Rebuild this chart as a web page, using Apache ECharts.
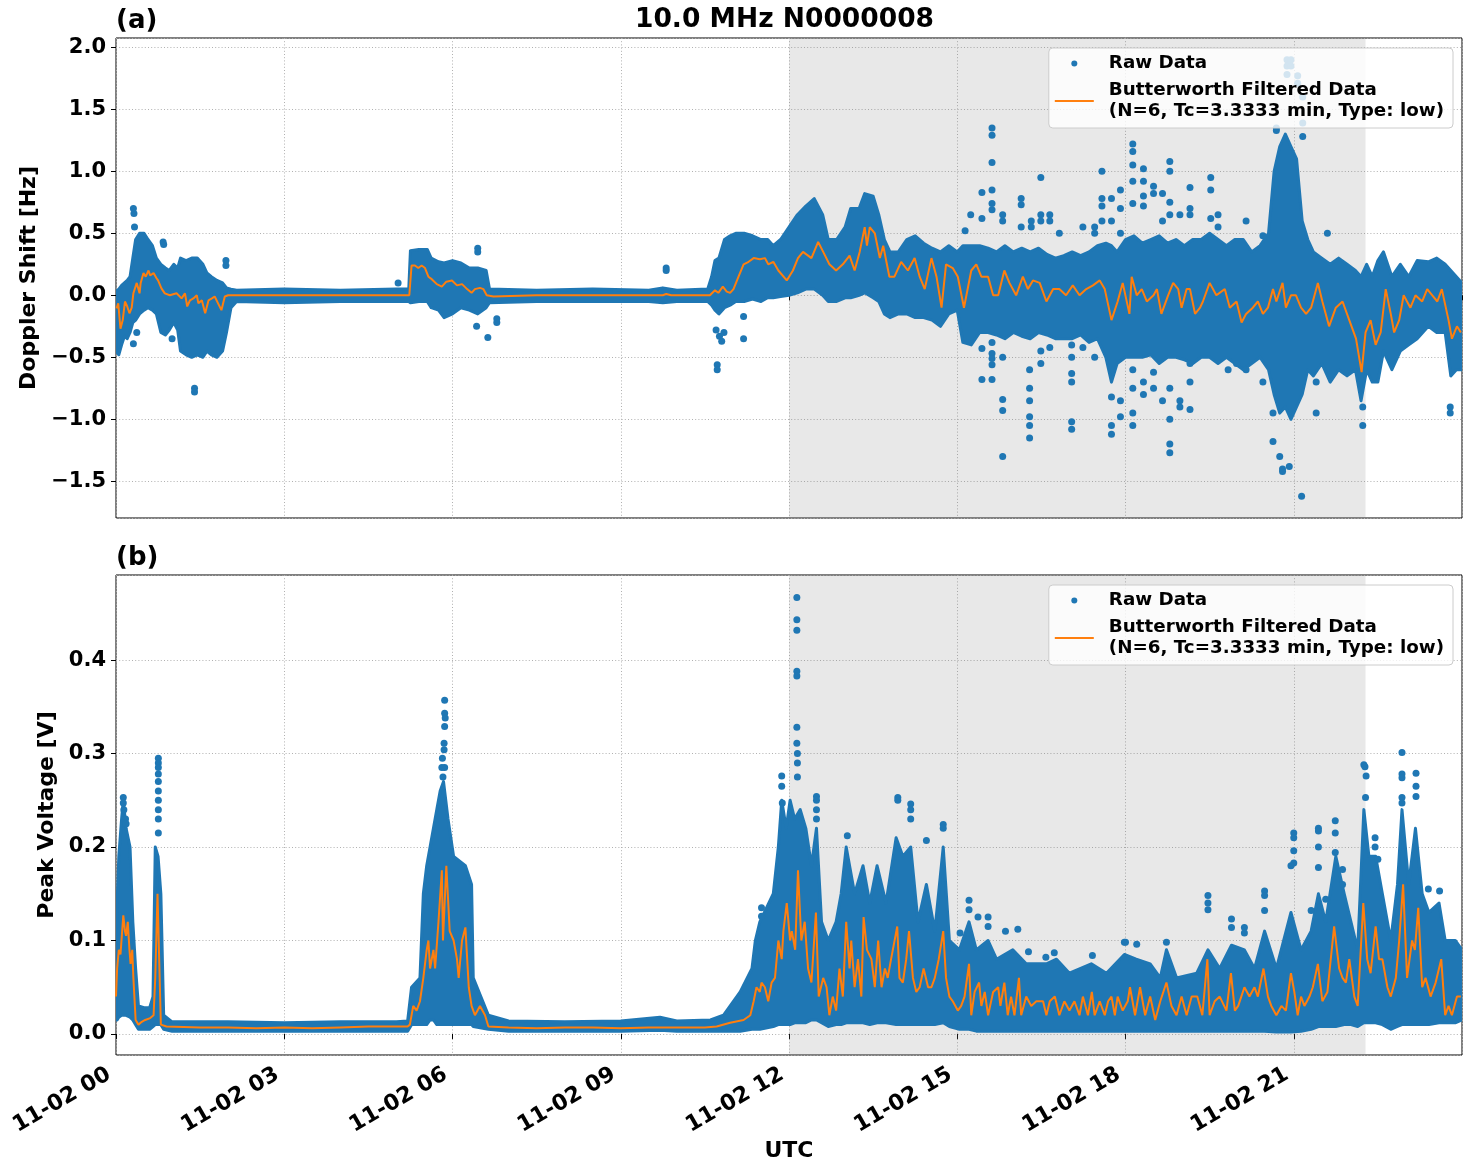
<!DOCTYPE html>
<html><head><meta charset="utf-8">
<script src="https://cdn.jsdelivr.net/npm/echarts@6/dist/echarts.min.js"></script>
<style>html,body{margin:0;padding:0;background:#fff}#chart{width:1471px;height:1172px}</style>
</head><body><div id="chart"></div>
<script>
// ---------------- DATA (hours after 11-02 00 UTC) ----------------
const xTickLabels = ['11-02 00','11-02 03','11-02 06','11-02 09','11-02 12','11-02 15','11-02 18','11-02 21'];
const shadedSpan = [12, 22.28];
const rawName = 'Raw Data';
const filtName = 'Butterworth Filtered Data\n(N=6, Tc=3.3333 min, Type: low)';

// Doppler shift raw-data cloud: [hour, lower edge, upper edge]
const dopplerEnvelope = [
[0.00,-0.45,0.03],[0.05,-0.48,0.05],[0.10,-0.40,0.08],[0.15,-0.33,0.10],[0.20,-0.35,0.12],[0.25,-0.30,0.15],[0.30,-0.22,0.30],[0.35,-0.20,0.45],[0.42,-0.15,0.50],[0.50,-0.12,0.50],[0.57,-0.10,0.45],[0.65,-0.12,0.40],[0.72,-0.15,0.30],[0.80,-0.30,0.25],[0.88,-0.32,0.22],[0.95,-0.28,0.20],[1.03,-0.22,0.25],[1.10,-0.28,0.22],[1.15,-0.45,0.30],[1.25,-0.48,0.28],[1.35,-0.50,0.30],[1.45,-0.48,0.30],[1.55,-0.50,0.25],[1.62,-0.45,0.18],[1.70,-0.48,0.15],[1.80,-0.50,0.12],[1.90,-0.45,0.10],[1.97,-0.30,0.06],[2.05,-0.10,0.05],[2.15,-0.05,0.04],[3.0,-0.06,0.05],[4.0,-0.05,0.04],[5.0,-0.05,0.05],[5.22,-0.05,0.05],[5.25,-0.06,0.36],[5.40,-0.05,0.37],[5.55,-0.05,0.37],[5.62,-0.10,0.30],[5.75,-0.12,0.27],[5.85,-0.18,0.26],[6.00,-0.15,0.28],[6.15,-0.10,0.26],[6.30,-0.12,0.22],[6.45,-0.15,0.22],[6.60,-0.10,0.20],[6.66,-0.06,0.05],[7.5,-0.05,0.04],[8.5,-0.05,0.05],[9.5,-0.05,0.04],[9.75,-0.06,0.06],[10.0,-0.05,0.04],[10.55,-0.05,0.05],[10.62,-0.08,0.15],[10.68,-0.12,0.28],[10.75,-0.15,0.30],[10.85,-0.10,0.45],[10.95,-0.08,0.48],[11.05,-0.05,0.50],[11.20,-0.05,0.50],[11.35,-0.03,0.48],[11.50,-0.05,0.45],[11.62,-0.02,0.45],[11.72,-0.02,0.40],[11.85,-0.01,0.45],[12.00,0.00,0.55],[12.15,0.02,0.65],[12.30,0.05,0.72],[12.45,0.05,0.78],[12.60,0.00,0.65],[12.70,-0.05,0.45],[12.85,-0.05,0.45],[13.00,-0.02,0.55],[13.10,-0.02,0.70],[13.25,0.00,0.70],[13.35,0.02,0.82],[13.50,-0.02,0.80],[13.60,-0.05,0.65],[13.70,-0.15,0.45],[13.80,-0.18,0.35],[13.95,-0.15,0.35],[14.10,-0.15,0.45],[14.25,-0.18,0.48],[14.40,-0.18,0.42],[14.55,-0.20,0.38],[14.70,-0.25,0.35],[14.85,-0.15,0.40],[15.00,-0.12,0.35],[15.10,-0.38,0.40],[15.25,-0.40,0.40],[15.40,-0.30,0.40],[15.55,-0.30,0.38],[15.70,-0.32,0.35],[15.85,-0.35,0.40],[16.00,-0.30,0.35],[16.15,-0.33,0.38],[16.30,-0.35,0.35],[16.45,-0.30,0.38],[16.60,-0.32,0.33],[16.75,-0.35,0.30],[16.90,-0.35,0.32],[17.05,-0.35,0.35],[17.20,-0.32,0.32],[17.35,-0.38,0.35],[17.50,-0.35,0.40],[17.65,-0.50,0.42],[17.75,-0.70,0.40],[17.85,-0.55,0.35],[18.00,-0.50,0.45],[18.15,-0.50,0.48],[18.30,-0.50,0.42],[18.45,-0.48,0.45],[18.60,-0.55,0.48],[18.75,-0.50,0.42],[18.90,-0.50,0.45],[19.05,-0.52,0.40],[19.20,-0.55,0.45],[19.35,-0.50,0.45],[19.50,-0.50,0.50],[19.65,-0.55,0.45],[19.80,-0.50,0.40],[19.95,-0.55,0.45],[20.10,-0.60,0.45],[20.25,-0.55,0.35],[20.40,-0.50,0.40],[20.55,-0.60,0.50],[20.65,-0.80,1.00],[20.75,-0.95,1.20],[20.85,-0.90,1.30],[20.95,-1.00,1.20],[21.05,-0.90,1.10],[21.15,-0.80,0.60],[21.25,-0.60,0.45],[21.35,-0.65,0.35],[21.50,-0.55,0.30],[21.65,-0.70,0.25],[21.80,-0.60,0.30],[21.95,-0.65,0.25],[22.10,-0.60,0.20],[22.20,-0.85,0.15],[22.30,-0.60,0.25],[22.40,-0.70,0.15],[22.50,-0.70,0.28],[22.60,-0.45,0.35],[22.75,-0.60,0.15],[22.90,-0.45,0.25],[23.05,-0.40,0.15],[23.20,-0.35,0.28],[23.40,-0.25,0.27],[23.55,-0.30,0.30],[23.70,-0.30,0.25],[23.80,-0.65,0.20],[23.90,-0.60,0.15],[24.00,-0.60,0.10]
];
// Doppler shift isolated raw points: [hour, Hz]
const dopplerOutliers = [
[0.31,0.70],[0.32,0.66],[0.33,0.55],[0.31,-0.39],[0.37,-0.30],[0.84,0.43],[0.85,0.41],[1.0,-0.35],[1.40,-0.75],[1.40,-0.78],[1.96,0.28],[1.96,0.24],[5.03,0.10],[6.45,0.38],[6.45,0.35],[6.43,-0.25],[6.63,-0.34],[6.79,-0.22],[6.79,-0.19],[9.81,0.22],[9.81,0.20],[10.72,-0.56],[10.72,-0.60],[10.70,-0.28],[10.76,-0.33],[10.80,-0.37],[10.84,-0.30],[11.19,-0.35],[11.19,-0.17],
[15.14,0.52],[15.24,0.65],[15.44,0.83],[15.44,0.62],[15.44,-0.43],[15.44,-0.68],
[15.62,1.35],[15.62,1.29],[15.62,1.07],[15.62,0.85],[15.62,0.74],[15.62,0.69],[15.62,-0.38],[15.62,-0.47],[15.62,-0.51],[15.62,-0.56],[15.62,-0.68],
[15.81,0.65],[15.81,0.60],[15.81,-0.50],[15.81,-0.84],[15.81,-0.93],[15.81,-1.30],
[16.14,0.78],[16.14,0.73],[16.14,0.55],
[16.29,-0.60],[16.29,-0.75],[16.29,-0.85],[16.29,-0.98],[16.29,-1.05],[16.29,-1.15],
[16.32,0.60],[16.32,0.55],[16.49,0.95],[16.49,0.65],[16.49,0.60],[16.49,-0.45],[16.49,-0.55],
[16.65,0.65],[16.65,0.60],[16.65,-0.42],[16.82,0.50],
[17.04,-0.40],[17.04,-0.50],[17.04,-0.63],[17.04,-0.70],[17.04,-1.02],[17.04,-1.08],
[17.24,0.55],[17.24,-0.42],[17.45,0.55],[17.45,0.50],[17.45,-0.50],
[17.58,1.00],[17.58,0.78],[17.58,0.72],[17.58,0.60],
[17.75,0.78],[17.75,0.60],[17.75,-0.82],[17.75,-1.05],[17.75,-1.12],
[17.91,0.85],[17.91,0.70],[17.91,0.50],[17.91,-0.85],[17.91,-0.98],
[18.13,1.22],[18.13,1.16],[18.13,1.05],[18.13,0.92],[18.13,0.74],[18.13,-0.60],[18.13,-0.75],[18.13,-0.95],[18.13,-1.05],
[18.32,1.02],[18.32,0.92],[18.32,0.80],[18.32,0.72],[18.32,-0.70],[18.32,-0.80],
[18.50,0.88],[18.50,0.82],[18.50,-0.62],[18.50,-0.75],[18.66,0.82],[18.66,0.60],[18.66,-0.85],
[18.79,1.08],[18.79,1.00],[18.79,0.75],[18.79,0.65],[18.79,-0.75],[18.79,-1.00],[18.79,-1.20],[18.79,-1.27],
[18.97,0.65],[18.97,-0.85],[18.97,-0.90],[19.15,0.87],[19.15,0.70],[19.15,0.65],[19.15,-0.55],[19.15,-0.70],[19.15,-0.92],
[19.52,0.95],[19.52,0.85],[19.52,0.62],[19.65,0.65],[19.65,0.55],
[19.83,-0.60],[19.98,-0.55],[20.15,0.60],[20.15,-0.60],[20.45,0.48],[20.45,-0.70],
[20.63,-0.95],[20.63,-1.18],[20.75,-1.30],[20.80,-1.40],[20.80,-1.42],[20.92,-1.38],
[20.69,1.35],[20.69,1.33],[20.88,1.90],[20.88,1.85],[20.88,1.78],[20.95,1.90],[20.95,1.85],[21.07,1.77],[21.07,1.71],[21.16,1.60],[21.16,1.39],[21.16,1.28],
[21.14,-1.62],[21.40,-0.95],[21.40,-0.70],[21.60,0.50],[22.23,-1.05],[22.23,-0.90],[23.79,-0.90],[23.79,-0.95]
];
// Doppler shift Butterworth filtered curve: [hour, Hz]
const dopplerFiltered = [
[0.01,-0.105],[0.04,-0.065],[0.08,-0.27],[0.12,-0.20],[0.16,-0.05],[0.20,-0.09],[0.24,-0.145],[0.28,-0.10],[0.31,0.016],[0.37,0.10],[0.42,0.016],[0.44,0.10],[0.49,0.18],[0.53,0.15],[0.58,0.20],[0.61,0.16],[0.67,0.18],[0.72,0.14],[0.75,0.12],[0.81,0.056],[0.87,0.016],[0.96,0.0],[1.08,0.016],[1.17,-0.025],[1.23,0.016],[1.27,-0.09],[1.32,-0.04],[1.38,-0.025],[1.44,0.0],[1.47,-0.065],[1.53,-0.04],[1.59,-0.145],[1.65,-0.04],[1.71,-0.025],[1.76,-0.01],[1.82,-0.065],[1.88,-0.12],[1.94,-0.01],[2.0,0.0],[2.5,0.0],[3.0,0.0],[4.0,0.0],[5.0,0.0],[5.23,0.0],
[5.27,0.24],[5.33,0.24],[5.39,0.22],[5.45,0.24],[5.51,0.22],[5.57,0.15],[5.63,0.13],[5.72,0.09],[5.81,0.07],[5.89,0.11],[5.99,0.12],[6.08,0.08],[6.17,0.09],[6.26,0.05],[6.34,0.02],[6.40,0.05],[6.49,0.06],[6.55,0.05],[6.61,0.0],[6.73,-0.01],[7.5,0.0],[8.5,0.0],[9.75,0.0],[9.81,0.01],[9.9,0.0],[10.59,0.0],
[10.68,0.04],[10.74,0.02],[10.82,0.07],[10.89,0.03],[10.95,0.02],[11.01,0.05],[11.10,0.15],[11.19,0.25],[11.28,0.27],[11.37,0.30],[11.48,0.29],[11.57,0.30],[11.63,0.25],[11.72,0.27],[11.81,0.20],[11.96,0.12],[12.07,0.20],[12.16,0.30],[12.25,0.35],[12.31,0.33],[12.40,0.30],[12.52,0.43],[12.61,0.35],[12.72,0.25],[12.84,0.20],[12.96,0.25],[13.08,0.32],[13.17,0.20],[13.26,0.35],[13.35,0.55],[13.39,0.40],[13.44,0.55],[13.53,0.50],[13.62,0.30],[13.68,0.40],[13.79,0.15],[13.88,0.15],[14.00,0.27],[14.12,0.20],[14.24,0.30],[14.33,0.15],[14.42,0.05],[14.54,0.30],[14.63,0.15],[14.72,-0.10],[14.80,0.25],[14.92,0.22],[15.01,0.15],[15.12,-0.10],[15.25,0.20],[15.34,0.25],[15.43,0.15],[15.55,0.15],[15.64,0.0],[15.73,0.0],[15.84,0.20],[15.93,0.10],[16.05,0.0],[16.17,0.15],[16.26,0.05],[16.35,0.12],[16.47,0.10],[16.59,-0.05],[16.71,0.05],[16.82,0.05],[16.94,0.0],[17.06,0.08],[17.18,0.0],[17.30,0.05],[17.42,0.08],[17.54,0.12],[17.63,0.05],[17.75,-0.20],[17.86,-0.05],[17.95,0.10],[18.07,-0.15],[18.11,0.15],[18.20,0.0],[18.29,0.05],[18.38,-0.05],[18.50,0.0],[18.56,0.05],[18.64,-0.15],[18.76,0.0],[18.85,0.10],[18.94,0.05],[19.00,-0.10],[19.09,0.05],[19.15,0.05],[19.24,-0.15],[19.33,-0.10],[19.38,-0.05],[19.50,0.10],[19.62,0.0],[19.77,0.05],[19.86,-0.10],[19.98,-0.05],[20.07,-0.22],[20.15,-0.15],[20.27,-0.10],[20.36,-0.05],[20.45,-0.15],[20.54,-0.10],[20.63,0.05],[20.69,-0.05],[20.80,0.10],[20.86,-0.10],[20.95,0.0],[21.04,0.0],[21.13,-0.10],[21.22,-0.15],[21.31,-0.10],[21.43,0.10],[21.51,-0.05],[21.63,-0.25],[21.75,-0.10],[21.87,-0.05],[21.99,-0.20],[22.11,-0.35],[22.21,-0.62],[22.28,-0.30],[22.37,-0.20],[22.46,-0.40],[22.55,-0.30],[22.64,0.05],[22.73,-0.15],[22.79,-0.30],[22.88,-0.20],[22.96,0.0],[23.08,-0.10],[23.17,0.0],[23.29,-0.05],[23.38,0.05],[23.47,0.0],[23.56,-0.05],[23.64,0.05],[23.76,-0.20],[23.82,-0.35],[23.91,-0.25],[23.98,-0.30]
];

// Peak voltage raw-data cloud: [hour, lower edge, upper edge]
const voltageEnvelope = [
[0.00,0.015,0.10],[0.02,0.015,0.14],[0.05,0.018,0.19],[0.10,0.02,0.23],[0.13,0.02,0.25],[0.18,0.02,0.22],[0.25,0.018,0.20],[0.30,0.015,0.12],[0.35,0.01,0.07],[0.40,0.005,0.03],[0.50,0.005,0.028],[0.60,0.005,0.028],[0.66,0.008,0.04],[0.70,0.01,0.20],[0.75,0.01,0.19],[0.80,0.01,0.15],[0.85,0.005,0.02],[1.0,0.003,0.013],[2.0,0.003,0.013],[3.0,0.003,0.012],[4.0,0.003,0.013],[5.0,0.003,0.013],[5.2,0.003,0.014],
[5.27,0.01,0.05],[5.42,0.01,0.06],[5.48,0.01,0.15],[5.54,0.01,0.18],[5.60,0.015,0.20],[5.66,0.015,0.22],[5.72,0.01,0.24],[5.78,0.01,0.26],[5.84,0.01,0.27],[5.92,0.01,0.23],[6.02,0.01,0.19],[6.23,0.01,0.18],[6.34,0.01,0.16],[6.37,0.008,0.06],[6.64,0.005,0.02],[7.0,0.003,0.014],[8.0,0.003,0.013],[9.0,0.003,0.014],[9.7,0.004,0.018],[10.0,0.003,0.014],[10.6,0.003,0.015],
[10.83,0.003,0.02],[11.13,0.003,0.045],[11.34,0.005,0.07],[11.40,0.005,0.10],[11.48,0.005,0.12],[11.72,0.008,0.15],[11.81,0.01,0.20],[11.87,0.01,0.25],[11.95,0.01,0.22],[12.02,0.01,0.25],[12.10,0.012,0.23],[12.20,0.012,0.24],[12.30,0.012,0.22],[12.40,0.015,0.18],[12.49,0.015,0.22],[12.58,0.012,0.12],[12.70,0.008,0.10],[12.84,0.01,0.12],[12.93,0.01,0.15],[13.02,0.012,0.20],[13.17,0.012,0.15],[13.32,0.012,0.18],[13.44,0.01,0.14],[13.57,0.012,0.18],[13.73,0.012,0.14],[13.91,0.01,0.21],[14.03,0.01,0.19],[14.17,0.01,0.20],[14.30,0.01,0.12],[14.45,0.01,0.16],[14.60,0.01,0.11],[14.75,0.012,0.20],[14.86,0.008,0.10],[15.04,0.005,0.09],[15.21,0.005,0.12],[15.34,0.003,0.09],[15.55,0.003,0.10],[15.70,0.003,0.08],[15.99,0.003,0.09],[16.23,0.003,0.075],[16.59,0.003,0.075],[16.77,0.003,0.08],[17.00,0.003,0.065],[17.39,0.003,0.075],[17.66,0.003,0.065],[17.98,0.003,0.085],[18.19,0.003,0.08],[18.44,0.003,0.075],[18.62,0.003,0.06],[18.73,0.003,0.09],[18.91,0.003,0.06],[19.27,0.003,0.065],[19.47,0.003,0.09],[19.68,0.003,0.07],[19.89,0.003,0.095],[20.12,0.003,0.09],[20.30,0.003,0.07],[20.48,0.003,0.11],[20.69,0.002,0.07],[20.95,0.002,0.13],[21.13,0.003,0.09],[21.31,0.005,0.11],[21.44,0.008,0.15],[21.57,0.008,0.12],[21.75,0.008,0.19],[21.90,0.01,0.15],[22.02,0.01,0.12],[22.14,0.008,0.09],[22.25,0.012,0.24],[22.34,0.012,0.19],[22.46,0.012,0.19],[22.58,0.01,0.15],[22.73,0.005,0.10],[22.85,0.008,0.16],[22.93,0.01,0.24],[23.05,0.01,0.16],[23.17,0.01,0.22],[23.29,0.01,0.15],[23.41,0.01,0.13],[23.59,0.012,0.14],[23.70,0.012,0.10],[23.88,0.012,0.10],[24.00,0.015,0.09]
];
// Peak voltage isolated raw points: [hour, V]
const voltageOutliers = [
[0.13,0.253],[0.13,0.247],[0.14,0.24],[0.17,0.23],[0.18,0.225],
[0.755,0.295],[0.755,0.29],[0.755,0.285],[0.755,0.278],[0.755,0.27],[0.755,0.26],[0.755,0.25],[0.755,0.24],[0.755,0.23],[0.755,0.215],
[5.86,0.357],[5.86,0.343],[5.87,0.338],[5.86,0.329],[5.85,0.311],[5.85,0.304],[5.86,0.285],[5.82,0.295],[5.81,0.285],[5.83,0.275],
[11.87,0.276],[11.87,0.265],[11.88,0.247],[11.51,0.135],[11.51,0.126],
[12.14,0.467],[12.14,0.443],[12.14,0.432],[12.14,0.388],[12.14,0.383],[12.14,0.328],[12.14,0.311],[12.15,0.30],[12.15,0.29],[12.15,0.275],
[12.49,0.254],[12.49,0.25],[12.49,0.24],[12.49,0.23],
[13.04,0.212],[13.94,0.253],[13.94,0.25],[14.17,0.246],[14.17,0.24],[14.17,0.23],[14.45,0.207],[14.75,0.224],[14.75,0.22],
[15.05,0.108],[15.21,0.143],[15.21,0.133],[15.37,0.125],[15.55,0.125],[15.55,0.115],[15.86,0.11],[16.08,0.112],[16.27,0.088],[16.58,0.082],[16.73,0.087],[17.41,0.084],[17.98,0.098],[18.0,0.098],[18.2,0.096],[18.73,0.098],
[19.47,0.148],[19.47,0.14],[19.47,0.133],[19.89,0.123],[19.89,0.114],[20.12,0.114],[20.12,0.108],[20.48,0.153],[20.48,0.148],[20.48,0.132],
[21.0,0.215],[21.0,0.21],[21.0,0.196],[21.0,0.183],[20.95,0.18],
[21.31,0.132],[21.44,0.22],[21.44,0.217],[21.44,0.2],[21.44,0.178],[21.57,0.144],[21.74,0.228],[21.74,0.215],[21.74,0.194],[21.87,0.176],[21.87,0.16],
[22.25,0.288],[22.27,0.286],[22.29,0.276],[22.28,0.253],[22.45,0.21],[22.45,0.2],[22.5,0.187],
[22.93,0.301],[22.93,0.278],[22.93,0.274],[22.93,0.253],[22.93,0.247],[23.18,0.279],[23.18,0.265],[23.18,0.254],[23.4,0.155],[23.6,0.153]
];
// Peak voltage Butterworth filtered curve: [hour, V]
const voltageFiltered = [
[0.0,0.04],[0.02,0.07],[0.05,0.09],[0.08,0.085],[0.13,0.127],[0.16,0.11],[0.18,0.105],[0.21,0.12],[0.24,0.09],[0.26,0.075],[0.29,0.09],[0.31,0.06],[0.35,0.015],[0.40,0.01],[0.46,0.013],[0.52,0.015],[0.61,0.017],[0.67,0.02],[0.70,0.06],[0.74,0.15],[0.77,0.08],[0.80,0.01],[0.90,0.008],[1.5,0.007],[2.0,0.007],[2.5,0.006],[3.0,0.007],[3.5,0.006],[4.0,0.007],[4.5,0.008],[5.0,0.008],[5.2,0.008],
[5.24,0.01],[5.30,0.03],[5.36,0.025],[5.42,0.035],[5.48,0.06],[5.54,0.09],[5.57,0.10],[5.60,0.07],[5.66,0.09],[5.69,0.07],[5.75,0.12],[5.81,0.175],[5.83,0.10],[5.86,0.14],[5.89,0.18],[5.95,0.11],[6.02,0.10],[6.08,0.08],[6.11,0.06],[6.17,0.10],[6.23,0.114],[6.29,0.05],[6.34,0.03],[6.40,0.02],[6.49,0.03],[6.58,0.02],[6.64,0.008],[7.0,0.007],[7.5,0.006],[8.0,0.007],[8.5,0.007],[9.0,0.006],[9.5,0.007],[10.0,0.007],[10.5,0.007],
[10.71,0.008],[10.95,0.012],[11.19,0.015],[11.31,0.02],[11.37,0.035],[11.42,0.05],[11.48,0.045],[11.51,0.055],[11.57,0.05],[11.63,0.035],[11.69,0.055],[11.75,0.06],[11.81,0.10],[11.87,0.08],[11.90,0.11],[11.96,0.14],[12.02,0.10],[12.05,0.11],[12.11,0.09],[12.16,0.175],[12.22,0.10],[12.28,0.12],[12.34,0.07],[12.40,0.055],[12.48,0.13],[12.53,0.04],[12.61,0.06],[12.67,0.05],[12.72,0.02],[12.78,0.04],[12.84,0.025],[12.90,0.07],[12.96,0.04],[13.02,0.12],[13.08,0.07],[13.11,0.10],[13.17,0.05],[13.23,0.08],[13.29,0.04],[13.33,0.125],[13.39,0.09],[13.47,0.08],[13.53,0.05],[13.59,0.10],[13.65,0.05],[13.71,0.07],[13.76,0.06],[13.82,0.08],[13.93,0.115],[13.97,0.06],[14.03,0.055],[14.09,0.08],[14.14,0.11],[14.21,0.06],[14.27,0.045],[14.33,0.05],[14.40,0.07],[14.48,0.05],[14.54,0.05],[14.60,0.06],[14.67,0.08],[14.75,0.11],[14.80,0.06],[14.86,0.04],[14.92,0.035],[15.01,0.025],[15.07,0.03],[15.13,0.04],[15.21,0.075],[15.25,0.02],[15.31,0.045],[15.39,0.055],[15.43,0.03],[15.49,0.045],[15.55,0.02],[15.64,0.045],[15.73,0.05],[15.77,0.03],[15.84,0.055],[15.90,0.02],[15.96,0.04],[16.02,0.02],[16.10,0.06],[16.14,0.02],[16.23,0.04],[16.32,0.03],[16.41,0.035],[16.53,0.035],[16.59,0.02],[16.65,0.035],[16.74,0.04],[16.82,0.02],[16.91,0.035],[17.00,0.025],[17.09,0.035],[17.18,0.02],[17.24,0.04],[17.33,0.02],[17.40,0.045],[17.45,0.02],[17.54,0.035],[17.63,0.02],[17.69,0.035],[17.75,0.04],[17.81,0.02],[17.86,0.04],[17.95,0.025],[18.04,0.035],[18.08,0.05],[18.17,0.02],[18.26,0.05],[18.35,0.02],[18.44,0.04],[18.53,0.015],[18.62,0.035],[18.73,0.055],[18.82,0.03],[18.91,0.02],[19.00,0.04],[19.09,0.02],[19.18,0.04],[19.28,0.04],[19.37,0.02],[19.46,0.08],[19.50,0.02],[19.59,0.035],[19.68,0.04],[19.80,0.025],[19.88,0.065],[19.95,0.025],[20.01,0.03],[20.12,0.05],[20.21,0.04],[20.30,0.05],[20.36,0.04],[20.46,0.07],[20.54,0.04],[20.60,0.03],[20.69,0.02],[20.78,0.03],[20.86,0.025],[20.95,0.065],[21.01,0.045],[21.07,0.02],[21.13,0.04],[21.19,0.03],[21.28,0.04],[21.34,0.05],[21.43,0.075],[21.51,0.035],[21.60,0.045],[21.72,0.115],[21.81,0.07],[21.87,0.06],[21.93,0.055],[21.99,0.08],[22.08,0.04],[22.14,0.03],[22.24,0.14],[22.31,0.08],[22.37,0.065],[22.46,0.115],[22.52,0.08],[22.58,0.08],[22.67,0.05],[22.73,0.04],[22.82,0.06],[22.88,0.10],[22.95,0.16],[23.02,0.06],[23.11,0.10],[23.16,0.09],[23.22,0.135],[23.29,0.05],[23.35,0.06],[23.44,0.04],[23.53,0.055],[23.63,0.08],[23.70,0.02],[23.76,0.03],[23.82,0.02],[23.91,0.04],[23.98,0.04]
];

// ---------------- STYLE ----------------
const BLUE = '#1f77b4', ORANGE = '#ff7f0e';
const FONT = '"DejaVu Sans", "Liberation Sans", sans-serif';
const tickText = { fontFamily: FONT, fontWeight: 'bold', fontSize: 21, color: '#000' };
const gridLine = { show: true, lineStyle: { color: '#b0b0b0', width: 1, type: [1, 2.2] } };
const fmtY = v => (v < 0 ? '\u2212' : '') + Math.abs(v).toFixed(1);

function envelopeRenderer(env) {
  return function (params, api) {
    if (params.dataIndex !== 0) return null;
    const upper = env.map(d => api.coord([d[0], d[2]]));
    const lower = env.slice().reverse().map(d => api.coord([d[0], d[1]]));
    return {
      type: 'polygon',
      shape: { points: upper.concat(lower) },
      style: { fill: BLUE, stroke: BLUE, lineWidth: 3, lineJoin: 'round' }
    };
  };
}

function xAxis(idx, showLabels) {
  return {
    type: 'value', gridIndex: idx, min: 0, max: 24, interval: 3,
    axisLine: { show: false },
    axisTick: { show: true, length: 5, lineStyle: { color: '#000', width: 1 } },
    axisLabel: showLabels ? Object.assign({
      show: true, rotate: 30, margin: 14, padding: [0, 8, 0, 0],
      showMaxLabel: false,
      formatter: v => xTickLabels[Math.round(v / 3)] || ''
    }, tickText, { fontSize: 22 }) : { show: false },
    splitLine: gridLine,
    name: showLabels ? 'UTC' : '',
    nameLocation: 'middle', nameGap: 85,
    nameTextStyle: { fontFamily: FONT, fontWeight: 'bold', fontSize: 22, color: '#000' }
  };
}
function yAxis(idx, min, max, step, name, gap) {
  return {
    type: 'value', gridIndex: idx, min: min, max: max,
    minInterval: step, maxInterval: step, splitNumber: 8,
    axisLine: { show: false },
    axisTick: { show: true, length: 5, lineStyle: { color: '#000', width: 1 } },
    axisLabel: Object.assign({ margin: 10, showMinLabel: false, showMaxLabel: false, formatter: fmtY }, tickText),
    splitLine: gridLine,
    name: name, nameLocation: 'middle', nameGap: gap,
    nameTextStyle: { fontFamily: FONT, fontWeight: 'bold', fontSize: 22, color: '#000' }
  };
}
function legend(top) {
  return {
    show: true, orient: 'vertical', right: 18, top: top, z: 10,
    data: [
      { name: rawName, icon: 'circle' },
      { name: filtName, icon: 'path://M0,0L39,0L39,2L0,2Z' }
    ],
    itemWidth: 39, itemHeight: 6, itemGap: 6,
    padding: [5, 9, 6, 6],
    backgroundColor: 'rgba(255,255,255,0.8)', borderColor: '#cccccc', borderWidth: 1, borderRadius: 4,
    textStyle: { fontFamily: FONT, fontWeight: 'bold', fontSize: 18.3, color: '#000', lineHeight: 21, padding: [0, 0, 0, 10] },
    selectedMode: false
  };
}
function panelSeries(idx, env, outl, filt) {
  return [
    {
      type: 'custom', name: 'cloud' + idx, xAxisIndex: idx, yAxisIndex: idx,
      data: env, encode: { x: 0, y: [1, 2] }, renderItem: envelopeRenderer(env),
      clip: true, silent: true, z: 2,
      markArea: { silent: true, itemStyle: { color: 'rgba(128,128,128,0.18)' },
        data: [[{ xAxis: shadedSpan[0] }, { xAxis: shadedSpan[1] }]] }
    },
    {
      type: 'scatter', name: rawName, xAxisIndex: idx, yAxisIndex: idx,
      data: outl, symbol: 'circle', symbolSize: 7, itemStyle: { color: BLUE, opacity: 1 },
      clip: true, silent: true, z: 2
    },
    {
      type: 'line', name: filtName, xAxisIndex: idx, yAxisIndex: idx,
      data: filt, symbol: 'none', showSymbol: false, clip: true, silent: true,
      lineStyle: { color: ORANGE, width: 2 }, itemStyle: { color: ORANGE }, z: 3
    }
  ];
}

const chart = echarts.init(document.getElementById('chart'), null, { renderer: 'canvas' });
chart.setOption({
  animation: false,
  backgroundColor: '#ffffff',
  grid: [
    { left: 116, top: 38, width: 1346, height: 480, show: true, borderColor: '#000', borderWidth: 1, backgroundColor: 'transparent' },
    { left: 116, top: 575, width: 1346, height: 480, show: true, borderColor: '#000', borderWidth: 1, backgroundColor: 'transparent' }
  ],
  xAxis: [xAxis(0, false), xAxis(1, true)],
  yAxis: [
    yAxis(0, -1.796, 2.075, 0.5, 'Doppler Shift [Hz]', 70),
    yAxis(1, -0.0225, 0.491, 0.1, 'Peak Voltage [V]', 51)
  ],
  legend: [legend(48), legend(585)],
  graphic: [
    { type: 'text', x: 784.5, y: 20, style: { text: '10.0 MHz N0000008', font: 'bold 26.5px ' + FONT, fill: '#000', align: 'center', verticalAlign: 'middle', textAlign: 'center', textVerticalAlign: 'middle' } },
    { type: 'text', x: 116, y: 21, style: { text: '(a)', font: 'bold 26px ' + FONT, fill: '#000', align: 'left', verticalAlign: 'middle', textAlign: 'left', textVerticalAlign: 'middle' } },
    { type: 'text', x: 116, y: 558, style: { text: '(b)', font: 'bold 26px ' + FONT, fill: '#000', align: 'left', verticalAlign: 'middle', textAlign: 'left', textVerticalAlign: 'middle' } }
  ],
  series: panelSeries(0, dopplerEnvelope, dopplerOutliers, dopplerFiltered)
    .concat(panelSeries(1, voltageEnvelope, voltageOutliers, voltageFiltered))
});
</script></body></html>
